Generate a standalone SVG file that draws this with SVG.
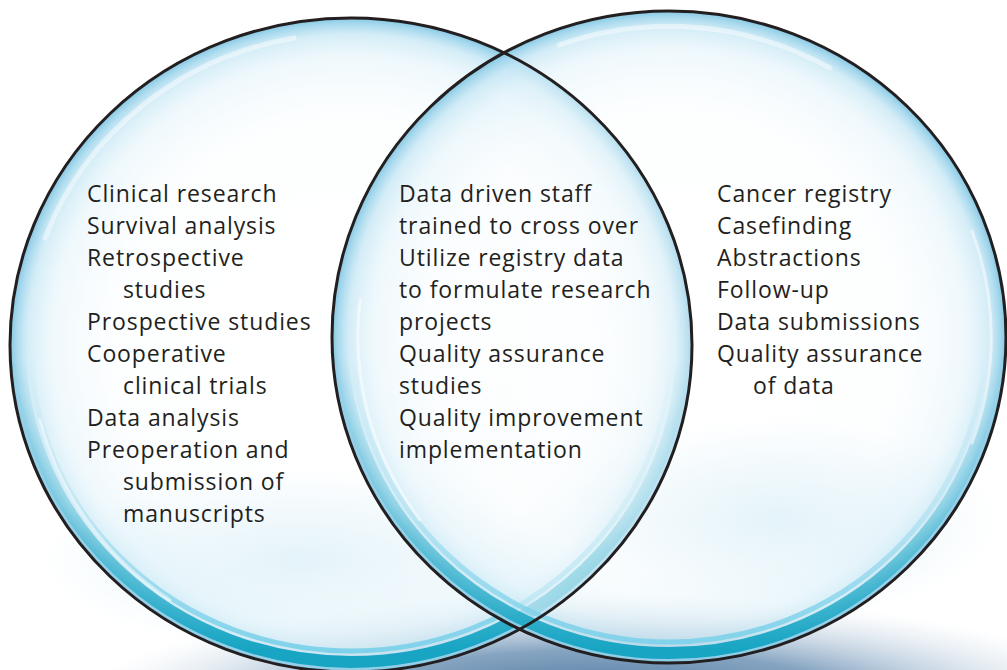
<svg xmlns="http://www.w3.org/2000/svg" width="1007" height="670" viewBox="0 0 1007 670">
  <defs>
    <radialGradient id="bubbleFill" cx="0.5" cy="0.5" r="0.5">
      <stop offset="0" stop-color="#ffffff" stop-opacity="0"/>
      <stop offset="0.7" stop-color="#eef8fc" stop-opacity="0.15"/>
      <stop offset="0.88" stop-color="#d6eef8" stop-opacity="0.4"/>
      <stop offset="0.95" stop-color="#bde3f3" stop-opacity="0.65"/>
      <stop offset="0.985" stop-color="#98d2ea" stop-opacity="0.9"/>
      <stop offset="1" stop-color="#84c6e2" stop-opacity="1"/>
    </radialGradient>
    <radialGradient id="shadowFill" cx="0.5" cy="0.5" r="0.5">
      <stop offset="0" stop-color="#3f6a94" stop-opacity="1"/>
      <stop offset="0.5" stop-color="#7094b6" stop-opacity="0.85"/>
      <stop offset="1" stop-color="#c9d8e6" stop-opacity="0"/>
    </radialGradient>
    <radialGradient id="hazeFill" cx="0.5" cy="0.5" r="0.5">
      <stop offset="0" stop-color="#c6e6f3" stop-opacity="0.5"/>
      <stop offset="1" stop-color="#c6e6f3" stop-opacity="0"/>
    </radialGradient>
    <linearGradient id="bottomFade" gradientUnits="userSpaceOnUse" x1="0" y1="360" x2="0" y2="650">
      <stop offset="0" stop-color="#000000"/>
      <stop offset="0.5" stop-color="#4a4a4a"/>
      <stop offset="1" stop-color="#ffffff"/>
    </linearGradient>
    <mask id="bottomMask" maskUnits="userSpaceOnUse" x="0" y="0" width="1007" height="700">
      <rect x="0" y="0" width="1007" height="700" fill="url(#bottomFade)"/>
    </mask>
    <style>
      .outline { fill: none; stroke: #231f20; stroke-width: 3; }
      .teal { fill: none; stroke: #17a5c3; stroke-width: 12; }
      .tealLight { fill: none; stroke: #7fd2ea; stroke-width: 5; }
      .hl { fill: none; stroke: #ffffff; stroke-linecap: round; }
      .label { font-family: "Open Sans", "Liberation Sans", sans-serif; font-size: 23px; letter-spacing: 0.9px; fill: #231f20; }
    </style>
  </defs>

  <rect width="1007" height="670" fill="#ffffff"/>

  <!-- shadow beneath bubbles -->
  <ellipse cx="600" cy="705" rx="520" ry="110" fill="url(#shadowFill)"/>

  <g id="bubble-left">
    <ellipse cx="351" cy="345" rx="341" ry="327" fill="#ffffff" fill-opacity="0.45"/>
    <ellipse cx="300" cy="560" rx="260" ry="90" fill="url(#hazeFill)"/>
    <ellipse cx="351" cy="345" rx="341" ry="327" fill="url(#bubbleFill)"/>
    <g mask="url(#bottomMask)">
      <ellipse class="teal" cx="351" cy="345" rx="331" ry="317"/>
      <ellipse class="tealLight" cx="351" cy="345" rx="320" ry="306"/>
    </g>
    <path class="hl" stroke-width="5" stroke-opacity="0.45" d="M 45 238 A 326 312 0 0 1 294 38"/>
    <path class="hl" stroke-width="3" stroke-opacity="0.5" d="M 40 420 A 322 308 0 0 0 170 600"/>
  </g>

  <g id="bubble-right">
    <ellipse cx="669" cy="337" rx="337" ry="326" fill="#ffffff" fill-opacity="0.3"/>
    <ellipse cx="780" cy="520" rx="220" ry="100" fill="url(#hazeFill)"/>
    <ellipse cx="669" cy="337" rx="337" ry="326" fill="url(#bubbleFill)"/>
    <g mask="url(#bottomMask)">
      <ellipse class="teal" cx="669" cy="337" rx="327" ry="316"/>
      <ellipse class="tealLight" cx="669" cy="337" rx="316" ry="305"/>
    </g>
    <path class="hl" stroke-width="5" stroke-opacity="0.45" d="M 559 45 A 322 311 0 0 1 830 68"/>
    <path class="hl" stroke-width="3" stroke-opacity="0.5" d="M 972 231 A 322 311 0 0 1 972 443"/>
    <path class="hl" stroke-width="3" stroke-opacity="0.5" d="M 360 300 A 322 311 0 0 0 420 520"/>
  </g>

  <g id="connectors">
    <ellipse class="outline" cx="351" cy="345" rx="341" ry="327"/>
    <ellipse class="outline" cx="669" cy="337" rx="337" ry="326"/>
  </g>

  <g id="text-left" class="label">
    <text x="87" y="202">Clinical research</text>
    <text x="87" y="234">Survival analysis</text>
    <text x="87" y="266">Retrospective</text>
    <text x="123" y="298">studies</text>
    <text x="87" y="330">Prospective studies</text>
    <text x="87" y="362">Cooperative</text>
    <text x="123" y="394">clinical trials</text>
    <text x="87" y="426">Data analysis</text>
    <text x="87" y="458">Preoperation and</text>
    <text x="123" y="490">submission of</text>
    <text x="123" y="522">manuscripts</text>
  </g>

  <g id="text-middle" class="label">
    <text x="399" y="202">Data driven staff</text>
    <text x="399" y="234">trained to cross over</text>
    <text x="399" y="266">Utilize registry data</text>
    <text x="399" y="298">to formulate research</text>
    <text x="399" y="330">projects</text>
    <text x="399" y="362">Quality assurance</text>
    <text x="399" y="394">studies</text>
    <text x="399" y="426">Quality improvement</text>
    <text x="399" y="458">implementation</text>
  </g>

  <g id="text-right" class="label">
    <text x="717" y="202">Cancer registry</text>
    <text x="717" y="234">Casefinding</text>
    <text x="717" y="266">Abstractions</text>
    <text x="717" y="298">Follow-up</text>
    <text x="717" y="330">Data submissions</text>
    <text x="717" y="362">Quality assurance</text>
    <text x="753" y="394">of data</text>
  </g>
</svg>
